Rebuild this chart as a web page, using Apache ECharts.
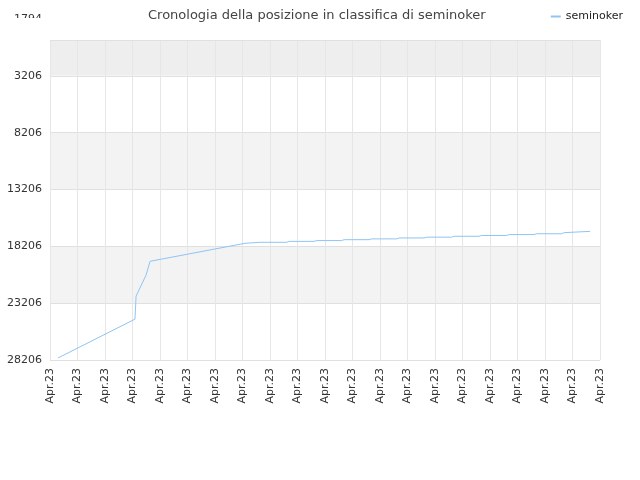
<!DOCTYPE html><html><head><meta charset="utf-8">
<script src="https://cdn.jsdelivr.net/npm/echarts@6/dist/echarts.min.js"></script></head>
<body style="margin:0"><div id="c" style="width:640px;height:480px"></div>
<script>
const categories = Array(21).fill('Apr.23');
const seriesName = 'seminoker';
const positions = [[0.29,28030],[3.09,24610],[3.13,22590],[3.49,20750],[3.64,19520],[7.09,17940],[7.64,17850],[8.6,17850],[8.7,17770],[9.6,17770],[9.7,17700],[10.6,17700],[10.7,17620],[11.6,17620],[11.7,17550],[12.6,17550],[12.7,17470],[13.6,17470],[13.7,17400],[14.6,17400],[14.7,17320],[15.6,17320],[15.7,17250],[16.6,17250],[16.7,17170],[17.6,17170],[17.7,17100],[18.6,17100],[18.7,17000],[19.64,16890]];
const chart = echarts.init(document.getElementById('c'));
chart.setOption({
  title:{text:'Cronologia della posizione in classifica di seminoker',left:143,top:4,z:20,textStyle:{fontSize:13,fontWeight:'normal',color:'#444',fontFamily:'DejaVu Sans'}},
  legend:{right:12,top:6,z:20,itemWidth:10,itemHeight:2,textStyle:{fontSize:11,color:'#222',fontFamily:'DejaVu Sans'},data:[{name:seriesName,icon:'rect'}]},
  grid:{left:50,right:40,top:19,bottom:120},
  xAxis:[{type:'category',data:categories,boundaryGap:false,axisLine:{lineStyle:{color:'#ccc'}},axisTick:{show:false},axisLabel:{rotate:90,fontSize:11,color:'#333',interval:0,fontFamily:'DejaVu Sans'},splitLine:{show:true,lineStyle:{color:'#e6e6e6'}}},
         {type:'value',min:0,max:20,show:false}],
  yAxis:{type:'value',inverse:true,min:-1794,max:28206,interval:5000,axisLine:{show:false},axisTick:{show:false},
    axisLabel:{fontSize:11,color:'#333',fontFamily:'DejaVu Sans',formatter:v=>String(v)},
    splitLine:{lineStyle:{color:'#e0e0e0'}},splitArea:{show:true,areaStyle:{color:['#eeeeee','#ffffff','#f3f3f3','#ffffff','#f3f3f3','#ffffff']}}},
  graphic:[{type:'rect',shape:{x:0,y:18,width:640,height:22},style:{fill:'#fff'},z:10,silent:true},
           {type:'line',shape:{x1:50,y1:40.5,x2:600,y2:40.5},style:{stroke:'#e0e0e0',lineWidth:1},z:10,silent:true}],
  series:[{name:seriesName,type:'line',xAxisIndex:1,data:positions,showSymbol:false,lineStyle:{color:'#90c4f2',width:1},itemStyle:{color:'#90c4f2'}}]
});
</script></body></html>
